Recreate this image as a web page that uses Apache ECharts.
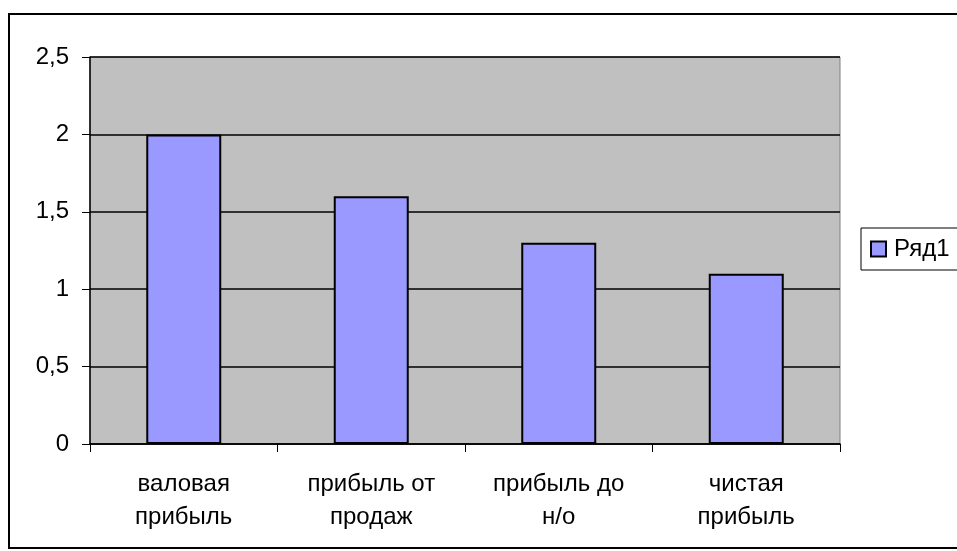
<!DOCTYPE html>
<html>
<head>
<meta charset="utf-8">
<script src="https://cdn.jsdelivr.net/npm/echarts@6/dist/echarts.min.js"></script>
<style>
  html, body { margin: 0; padding: 0; background: #fff; }
  #chartBox { width: 957px; height: 551px; }
</style>
</head>
<body>
<div id="chartBox"></div>
<script>
  // данные диаграммы
  var categories = ['валовая\nприбыль', 'прибыль от\nпродаж', 'прибыль до\nн/о', 'чистая\nприбыль'];
  var seriesName = 'Ряд1';
  var values = [2, 1.6, 1.3, 1.1];
  var yTicks = { min: 0, max: 2.5, step: 0.5 };

  var myChart = echarts.init(document.getElementById('chartBox'));
  var font = 'Liberation Sans, Arial, sans-serif';

  var option = {
    animation: false,
    textStyle: { fontFamily: font },
    graphic: [
      { // внешняя рамка
        type: 'rect',
        shape: { x: 9, y: 14, width: 960, height: 534 },
        style: { fill: 'none', stroke: '#000', lineWidth: 2 },
        z: -1
      }
    ],
    grid: {
      left: 90,
      top: 57,
      right: 117,
      bottom: 107,
      show: true,
      backgroundColor: '#C0C0C0',
      borderColor: '#808080',
      borderWidth: 1
    },
    legend: {
      left: 861,
      top: 228,
      orient: 'vertical',
      padding: [9, 20, 9, 9],
      borderColor: '#000',
      borderWidth: 1,
      backgroundColor: '#fff',
      itemWidth: 15,
      itemHeight: 15,
      itemGap: 6,
      icon: 'rect',
      textStyle: { fontSize: 24, color: '#000', fontFamily: font, padding: [0, 0, 0, 3] },
      data: [seriesName]
    },
    xAxis: {
      type: 'category',
      data: categories,
      axisLine: { lineStyle: { color: '#000', width: 1.5 } },
      axisTick: { show: true, length: 8, interval: 0, lineStyle: { color: '#000' } },
      axisLabel: {
        interval: 0,
        margin: 24,
        fontSize: 24,
        lineHeight: 33,
        color: '#000',
        fontFamily: font
      }
    },
    yAxis: {
      type: 'value',
      min: yTicks.min,
      max: yTicks.max,
      interval: yTicks.step,
      axisLine: { show: true, lineStyle: { color: '#000', width: 1.5 } },
      axisTick: { show: true, length: 8, lineStyle: { color: '#000' } },
      splitLine: { lineStyle: { color: '#000', width: 1.5 } },
      axisLabel: {
        margin: 21,
        fontSize: 24,
        color: '#000',
        fontFamily: font,
        formatter: function (v) { return String(v).replace('.', ','); }
      }
    },
    series: [
      {
        name: seriesName,
        type: 'bar',
        data: values,
        barWidth: '40%',
        itemStyle: {
          color: '#9999FF',
          borderColor: '#000',
          borderWidth: 2
        }
      }
    ]
  };
  myChart.setOption(option);
</script>
</body>
</html>
